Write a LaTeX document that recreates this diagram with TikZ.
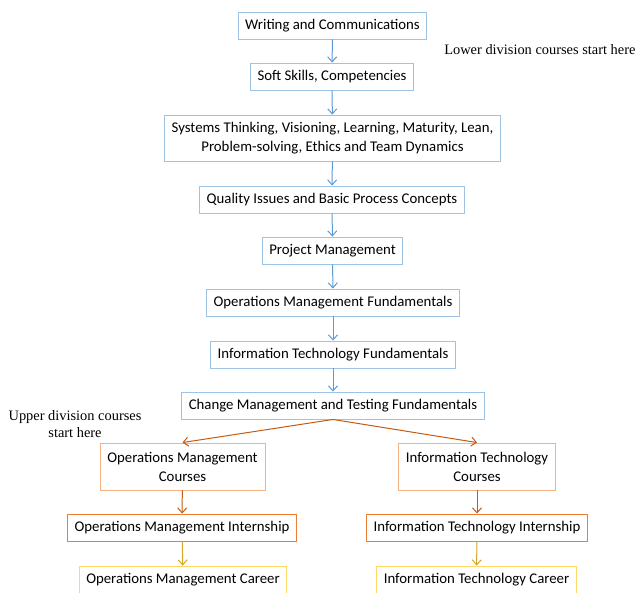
\documentclass[tikz,border=0pt]{standalone}
\usepackage{fontspec}
\setmainfont{Carlito}
\newfontfamily\serifnote{Liberation Serif}
\usetikzlibrary{arrows.meta}
\definecolor{boxblue}{RGB}{157,195,230}
\definecolor{arrblue}{RGB}{91,155,213}
\definecolor{boxpeach}{RGB}{244,177,131}
\definecolor{arrrust}{RGB}{197,90,17}
\definecolor{boxrust}{RGB}{237,125,49}
\definecolor{boxgold}{RGB}{255,217,102}
\definecolor{arrgold}{RGB}{214,165,40}
\tikzset{
  course/.style={draw, line width=0.9pt, minimum height=27pt, inner xsep=7pt,
    align=center, font=\fontsize{14.8}{19}\selectfont},
  blueflow/.style={course, draw=boxblue},
  flowarrow/.style={-{Straight Barb[length=5pt,width=9pt]}, line width=1pt},
  note/.style={font=\serifnote\fontsize{14.4}{17.5}\selectfont, align=center}
}
\begin{document}
\begin{tikzpicture}[x=1pt, y=-1pt]
    \useasboundingbox (0,0) rectangle (639,592);
    % Lower division chain
    \node[blueflow] (write) at (332.5,25.5) {Writing and Communications};
    \node[blueflow] (soft) at (332,76.5) {Soft Skills, Competencies};
    \node[blueflow, minimum height=46pt] (systems) at (332.5,138)
      {Systems Thinking, Visioning, Learning, Maturity, Lean,\\Problem-solving, Ethics and Team Dynamics};
    \node[blueflow] (quality) at (332,199.5) {Quality Issues and Basic Process Concepts};
    \node[blueflow] (project) at (332.5,250.5) {Project Management};
    \node[blueflow] (opsfund) at (333,302.5) {Operations Management Fundamentals};
    \node[blueflow] (itfund) at (333,354.5) {Information Technology Fundamentals};
    \node[blueflow] (change) at (333,405.5) {Change Management and Testing Fundamentals};

    \foreach \a/\b in {write/soft, soft/systems, systems/quality, quality/project,
        project/opsfund, opsfund/itfund, itfund/change}
      \draw[flowarrow, arrblue] (\a) -- (\b);

    % Upper division branches
    \node[course, draw=boxpeach, minimum width=165pt, minimum height=47pt] (opscourse) at (182.5,466.5)
      {Operations Management\\Courses};
    \node[course, draw=boxpeach, minimum width=156pt, minimum height=47pt] (itcourse) at (477,466.5)
      {Information Technology\\Courses};
    \node[course, draw=boxrust] (opsintern) at (182,527.5) {Operations Management Internship};
    \node[course, draw=boxrust] (itintern) at (477,527.5) {Information Technology Internship};
    \node[course, draw=boxgold] (opscareer) at (183,579.5) {Operations Management Career};
    \node[course, draw=boxgold] (itcareer) at (476.5,579.5) {Information Technology Career};

    \draw[flowarrow, arrrust] (change.south) -- (opscourse.north);
    \draw[flowarrow, arrrust] (change.south) -- (itcourse.north);
    \draw[flowarrow, arrrust] (opscourse) -- (opsintern);
    \draw[flowarrow, arrrust] (itcourse) -- (itintern);
    \draw[flowarrow, arrgold] (opsintern) -- (opscareer);
    \draw[flowarrow, arrgold] (itintern) -- (itcareer);

    % Side notes
    \node[note, anchor=east] (lowernote) at (639,50) {Lower division courses start here};
    \node[note] (uppernote) at (75,424) {Upper division courses\\start here};
\end{tikzpicture}
\end{document}
